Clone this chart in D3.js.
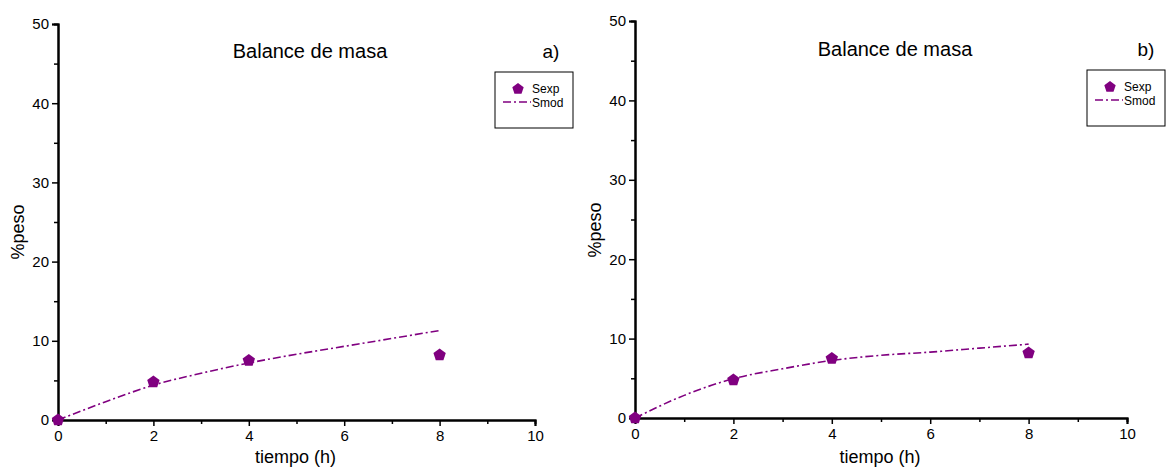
<!DOCTYPE html>
<html><head><meta charset="utf-8">
<script src="https://cdn.jsdelivr.net/npm/d3@7"></script>
<style>body{margin:0;background:#fff}svg{display:block}text{font-family:"Liberation Sans",Arial,sans-serif}</style>
</head><body>
<svg id="chart" width="1166" height="468"></svg>
<script>
const expTime = [0, 2, 4, 8];
const modTime = [0, 1, 2, 3, 4, 5, 6, 7, 8];
const sexpA = [0, 4.8, 7.5, 8.2];
const smodA = [0, 2.3, 4.4, 5.9, 7.2, 8.3, 9.3, 10.3, 11.3];
const sexpB = [0, 4.8, 7.5, 8.2];
const smodB = [0, 2.85, 4.95, 6.2, 7.25, 7.9, 8.3, 8.8, 9.3];
const xTicks = [0, 2, 4, 6, 8, 10];
const yTicks = [0, 10, 20, 30, 40, 50];
const titleText = "Balance de masa";
const xLabel = "tiempo (h)";
const yLabel = "%peso";
const seriesNames = ["Sexp", "Smod"];
const color = "#800080";

const svg = d3.select("#chart");

const pent = (cx, cy, r) => {
  const pts = d3.range(5).map(k => {
    const a = -Math.PI / 2 + k * 2 * Math.PI / 5;
    return [cx + r * Math.cos(a), cy + r * Math.sin(a)];
  });
  return "M" + pts.map(p => p.join(",")).join("L") + "Z";
};

function panel(o) {
  const g = svg.append("g");
  const x = d3.scaleLinear().domain([0, 10]).range([o.x0, o.x1]);
  const y = d3.scaleLinear().domain([0, 50]).range([o.y0, o.y1]);

  const xa = g.append("g").attr("transform", `translate(0,${o.y0})`)
    .call(d3.axisBottom(x).tickValues(d3.range(1, 10, 2)).tickSize(4).tickFormat(""));
  const ya = g.append("g").attr("transform", `translate(${o.x0},0)`)
    .call(d3.axisLeft(y).tickValues(d3.range(5, 50, 10)).tickSize(4).tickFormat(""));
  const xb = g.append("g").attr("transform", `translate(0,${o.y0})`)
    .call(d3.axisBottom(x).tickValues(xTicks).tickSize(6).tickPadding(4).tickFormat(d3.format("d")));
  const yb = g.append("g").attr("transform", `translate(${o.x0},0)`)
    .call(d3.axisLeft(y).tickValues(yTicks).tickSize(6).tickPadding(3).tickFormat(d3.format("d")));
  [xa, ya, xb, yb].forEach(a => {
    a.select(".domain").attr("stroke", "#000").attr("stroke-width", 2);
    a.selectAll(".tick line").attr("stroke", "#000").attr("stroke-width", 1.5);
    a.selectAll(".tick text").attr("fill", "#000").style("font-size", "15px")
      .style("font-family", '"Liberation Sans",Arial,sans-serif');
  });

  const line = d3.line().x((d, i) => x(modTime[i])).y(d => y(d)).curve(d3.curveMonotoneX);
  g.append("path").datum(o.smod).attr("d", line).attr("fill", "none")
    .attr("stroke", color).attr("stroke-width", 1.6).attr("stroke-dasharray", "8,3,2,3");

  g.selectAll(".pt").data(o.sexp).enter().append("path")
    .attr("d", (d, i) => pent(x(expTime[i]), y(d), 6.5)).attr("fill", color);

  g.append("text").attr("x", o.titleX).attr("y", o.titleY).attr("text-anchor", "middle")
    .style("font-size", "20px").text(titleText);
  g.append("text").attr("x", o.tagX).attr("y", o.titleY).attr("text-anchor", "middle")
    .style("font-size", "19px").text(o.tag);
  g.append("text").attr("x", (o.x0 + o.x1) / 2 - 1).attr("y", 463).attr("text-anchor", "middle")
    .style("font-size", "18px").text(xLabel);
  g.append("text").attr("transform", `translate(${o.yLabX},${o.y0 - 188}) rotate(-90)`)
    .attr("text-anchor", "middle").style("font-size", "18px").text(yLabel);

  const L = g.append("g").attr("transform", `translate(${o.legX},${o.legY})`);
  L.append("rect").attr("x", 0).attr("y", 0).attr("width", 78).attr("height", 56)
    .attr("fill", "#fff").attr("stroke", "#000").attr("stroke-width", 1);
  L.append("path").attr("d", pent(23, 17, 6)).attr("fill", color);
  L.append("line").attr("x1", 8).attr("x2", 36).attr("y1", 30).attr("y2", 30)
    .attr("stroke", color).attr("stroke-width", 1.6).attr("stroke-dasharray", "8,3,2,3");
  L.append("text").attr("x", 37).attr("y", 21).style("font-size", "12px").text(seriesNames[0]);
  L.append("text").attr("x", 37).attr("y", 35).style("font-size", "12px").text(seriesNames[1]);
}

panel({x0: 58, x1: 535, y0: 420, y1: 24, sexp: sexpA, smod: smodA, titleX: 310, titleY: 58,
  tag: "a)", tagX: 551, yLabX: 24, legX: 495, legY: 72});
panel({x0: 635, x1: 1127, y0: 418, y1: 21, sexp: sexpB, smod: smodB, titleX: 895, titleY: 56,
  tag: "b)", tagX: 1146, yLabX: 601, legX: 1087, legY: 70});
</script>
</body></html>
